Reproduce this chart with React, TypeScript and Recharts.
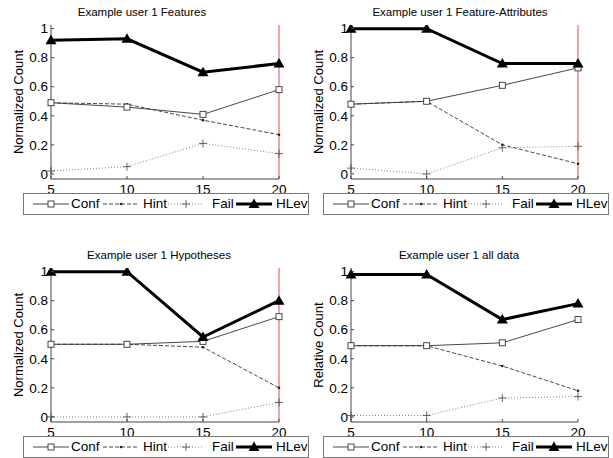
import React from "react";
import { LineChart, Line, XAxis, YAxis, ReferenceLine } from "recharts";

// values
const iterations = [5, 10, 15, 20];
const seriesNames = ["Conf", "Hint", "Fail", "HLev"];
const yTicks = [0, 0.2, 0.4, 0.6, 0.8, 1];

const featConf = [0.49, 0.46, 0.41, 0.58];
const featHint = [0.49, 0.48, 0.37, 0.27];
const featFail = [0.02, 0.05, 0.21, 0.14];
const featHLev = [0.92, 0.93, 0.7, 0.76];

const attrConf = [0.48, 0.5, 0.61, 0.73];
const attrHint = [0.48, 0.5, 0.2, 0.07];
const attrFail = [0.04, 0.0, 0.18, 0.19];
const attrHLev = [1.0, 1.0, 0.76, 0.76];

const hypConf = [0.5, 0.5, 0.52, 0.69];
const hypHint = [0.5, 0.5, 0.48, 0.2];
const hypFail = [0.0, 0.0, 0.0, 0.1];
const hypHLev = [1.0, 1.0, 0.55, 0.8];

const allConf = [0.49, 0.49, 0.51, 0.67];
const allHint = [0.49, 0.49, 0.35, 0.18];
const allFail = [0.01, 0.01, 0.13, 0.14];
const allHLev = [0.98, 0.98, 0.67, 0.78];

const FONT = '"Liberation Sans", Arial, sans-serif';
const AXIS = "#444";
const RED = "#f3a3a3";

type Row = { it: number; conf: number; hint: number; fail: number; hlev: number };

function rows(c: number[], h: number[], f: number[], l: number[]): Row[] {
  return iterations.map((it, i) => ({ it, conf: c[i], hint: h[i], fail: f[i], hlev: l[i] }));
}

function SquareDot(p: any) {
  if (p.cx == null) return <g key={p.key} />;
  return (
    <rect key={p.key} x={p.cx - 3} y={p.cy - 3} width={6} height={6} fill="#fff" stroke="#333" strokeWidth={0.9} />
  );
}
function PointDot(p: any) {
  if (p.cx == null) return <g key={p.key} />;
  return <circle key={p.key} cx={p.cx} cy={p.cy} r={1.3} fill="#222" />;
}
function PlusDot(p: any) {
  if (p.cx == null) return <g key={p.key} />;
  return (
    <path key={p.key} d={`M${p.cx - 4},${p.cy}H${p.cx + 4}M${p.cx},${p.cy - 4}V${p.cy + 4}`} stroke="#555" strokeWidth={0.9} />
  );
}
function TriDot(p: any) {
  if (p.cx == null) return <g key={p.key} />;
  return (
    <path key={p.key} d={`M${p.cx},${p.cy - 5.5}L${p.cx - 5.5},${p.cy + 4}L${p.cx + 5.5},${p.cy + 4}Z`} fill="#000" />
  );
}

function XTick(p: any) {
  return (
    <g>
      <line x1={p.x} x2={p.x} y1={p.y} y2={p.y - 3} stroke={AXIS} strokeWidth={1} />
      <text x={p.x} y={p.y + 15} textAnchor="middle" fontSize={13.5} fontFamily={FONT} fill="#000">
        {p.payload.value}
      </text>
    </g>
  );
}
function YTick(p: any) {
  return (
    <g>
      <line x1={p.x} x2={p.x + 3} y1={p.y} y2={p.y} stroke={AXIS} strokeWidth={1} />
      <text x={p.x - 3} y={p.y} dy="0.35em" textAnchor="end" fontSize={13.5} fontFamily={FONT} fill="#000">
        {p.payload.value}
      </text>
    </g>
  );
}

function Sample({ kind }: { kind: number }) {
  const w = 36;
  const cy = 10;
  const cx = w / 2;
  const line = [
    { stroke: "#333", width: 0.9, dash: undefined },
    { stroke: "#333", width: 0.9, dash: "4 2" },
    { stroke: "#777", width: 0.9, dash: "1 2" },
    { stroke: "#000", width: 3, dash: undefined },
  ][kind];
  const dots = [SquareDot, PointDot, PlusDot, TriDot];
  const D = dots[kind];
  return (
    <svg width={w} height={20} style={{ display: "block" }}>
      <line x1={0} x2={w} y1={cy} y2={cy} stroke={line.stroke} strokeWidth={line.width} strokeDasharray={line.dash} />
      {D({ cx, cy, key: "d" })}
    </svg>
  );
}

const sampleLeft = [9, 79, 144, 212];
const textLeft = [47, 119, 188, 252];

function LegendBox({ left, top }: { left: number; top: number }) {
  return (
    <div
      style={{
        position: "absolute",
        left,
        top,
        width: 284,
        height: 20,
        border: "1px solid #777",
        background: "#fff",
        fontFamily: FONT,
        fontSize: 13.5,
      }}
    >
      {seriesNames.map((n, i) => (
        <React.Fragment key={n}>
          <div style={{ position: "absolute", left: sampleLeft[i], top: 0 }}>
            <Sample kind={i} />
          </div>
          <div style={{ position: "absolute", left: textLeft[i], top: 2, lineHeight: "16px" }}>{n}</div>
        </React.Fragment>
      ))}
    </div>
  );
}

type PanelProps = {
  left: number;
  top: number;
  right: number;
  title: string;
  titleX: number;
  ylabel: string;
  data: Row[];
  marker: boolean;
};

function Panel({ left, top, right, title, titleX, ylabel, data, marker }: PanelProps) {
  return (
    <>
      <div
        style={{
          position: "absolute",
          left: left + titleX - 120,
          top: top + 5,
          width: 240,
          textAlign: "center",
          fontFamily: FONT,
          fontSize: 11.5,
          lineHeight: "14px",
        }}
      >
        {title}
      </div>
      <div style={{ position: "absolute", left, top }}>
        <LineChart width={300} height={200} data={data} margin={{ top: 25, right, bottom: 0, left: 0 }}>
          <XAxis
            dataKey="it"
            type="number"
            domain={[5, 20]}
            ticks={iterations}
            interval={0}
            height={21}
            tickSize={0}
            tickMargin={0}
            tickLine={false}
            axisLine={{ stroke: AXIS, strokeWidth: 1 }}
            tick={<XTick />}
          />
          <YAxis
            type="number"
            domain={[-0.035, 1.025]}
            ticks={yTicks}
            interval={0}
            width={51}
            tickSize={0}
            tickMargin={0}
            tickLine={false}
            axisLine={{ stroke: AXIS, strokeWidth: 1 }}
            tick={<YTick />}
            allowDataOverflow
            label={(p: any) => {
              const vb = p && p.viewBox ? p.viewBox : { x: 0, y: 25, height: 154 };
              const cx = 18;
              const cy = vb.y + vb.height / 2;
              return (
                <text
                  x={cx}
                  y={cy}
                  transform={`rotate(-90 ${cx} ${cy})`}
                  textAnchor="middle"
                  dy="0.35em"
                  fontSize={13}
                  fontFamily={FONT}
                  fill="#000"
                >
                  {ylabel}
                </text>
              );
            }}
          />
          {marker && <ReferenceLine x={20} stroke={RED} strokeWidth={2} ifOverflow="visible" />}
          <Line dataKey="fail" stroke="#777" strokeWidth={0.9} strokeDasharray="1 2" dot={PlusDot} activeDot={false} isAnimationActive={false} />
          <Line dataKey="hint" stroke="#333" strokeWidth={0.9} strokeDasharray="4 2" dot={PointDot} activeDot={false} isAnimationActive={false} />
          <Line dataKey="conf" stroke="#333" strokeWidth={0.9} dot={SquareDot} activeDot={false} isAnimationActive={false} />
          <Line dataKey="hlev" stroke="#000" strokeWidth={3} dot={TriDot} activeDot={false} isAnimationActive={false} />
        </LineChart>
      </div>
    </>
  );
}

export default function App() {
  return (
    <div style={{ position: "absolute", left: 0, top: 0, width: 613, height: 458, background: "#fff", overflow: "hidden" }}>
      <Panel
        left={0}
        top={0}
        right={21}
        title="Example user 1 Features"
        titleX={142}
        ylabel="Normalized Count"
        data={rows(featConf, featHint, featFail, featHLev)}
        marker
      />
      <Panel
        left={300}
        top={0}
        right={22}
        title="Example user 1 Feature-Attributes"
        titleX={160}
        ylabel="Normalized Count"
        data={rows(attrConf, attrHint, attrFail, attrHLev)}
        marker
      />
      <Panel
        left={0}
        top={243}
        right={21}
        title="Example user 1 Hypotheses"
        titleX={159}
        ylabel="Normalized Count"
        data={rows(hypConf, hypHint, hypFail, hypHLev)}
        marker
      />
      <Panel
        left={300}
        top={243}
        right={22}
        title="Example user 1 all data"
        titleX={159}
        ylabel="Relative Count"
        data={rows(allConf, allHint, allFail, allHLev)}
        marker={false}
      />
      <LegendBox left={23} top={193} />
      <LegendBox left={323} top={193} />
      <LegendBox left={23} top={436} />
      <LegendBox left={323} top={436} />
    </div>
  );
}
